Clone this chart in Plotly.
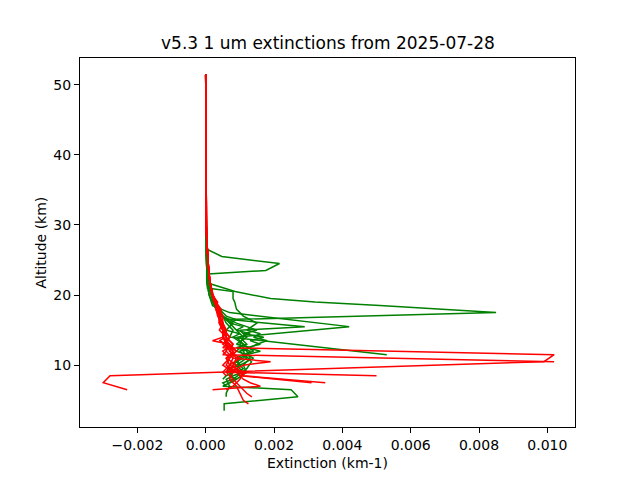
import plotly.graph_objects as go

# ---------------- data (altitude km, extinction km-1) ----------------
TOP_ALT = [51.5, 45.0, 40.0, 35.0, 30.0, 28.0, 26.0, 24.0, 22.0]
GREEN_TOP = [0.0, 0.0, 0.0, 0.0, 0.00001, 0.00001, 0.00002, 0.00003, 0.00003]
RED_TOP = [0.0, 0.0, 0.0, 0.0, 0.00002, 0.00003, 0.00005, 0.00008, 0.00012]

g1_alt = [26.5, 25.5, 24.5, 23.5, 23.0, 21.0, 20.0, 19.0, 18.0, 17.0, 16.5, 16.0, 15.5, 15.0, 14.5, 14.0, 13.0, 12.5, 12.0, 11.0, 10.5, 10.0, 9.5, 9.0, 8.5, 8.0]
g1_ext = [0.00005, 0.00047, 0.00216, 0.00176, 0.00008, 0.0001, 0.0002, 0.0003, 0.0004, 0.0006, 0.0009, 0.0007, 0.0011, 0.0009, 0.0013, 0.0010, 0.0012, 0.0009, 0.0013, 0.0011, 0.0009, 0.0010, 0.0007, 0.0008, 0.0006, 0.0005]

g2_alt = [21.5, 20.5, 19.5, 19.0, 18.5, 18.0, 17.5, 16.5, 16.0, 15.0, 14.5, 14.0, 13.0, 12.0, 11.5, 11.0, 10.0, 9.5, 9.0]
g2_ext = [0.0002, 0.00086, 0.0019, 0.0032, 0.0051, 0.0069, 0.0085, 0.0006, 0.0008, 0.0006, 0.0010, 0.0008, 0.0011, 0.0009, 0.0012, 0.0010, 0.0008, 0.0007, 0.0006]

g3_alt = [21.0, 20.5, 19.5, 19.0, 18.0, 17.0, 16.5, 16.0, 15.0, 14.5, 14.0, 13.5, 13.0, 12.5, 12.0, 11.5, 10.5, 9.5, 8.0, 7.5, 7.0]
g3_ext = [0.00005, 0.0008, 0.0008, 0.00085, 0.0009, 0.0011, 0.0013, 0.0015, 0.0012, 0.0016, 0.0014, 0.0018, 0.0015, 0.0013, 0.0011, 0.00115, 0.00134, 0.0012, 0.0008, 0.0005, 0.0006]

g4_alt = [20.0, 18.5, 17.5, 15.5, 14.0, 13.0, 12.0, 11.5, 11.0, 10.0, 9.0, 8.5, 8.0, 7.5]
g4_ext = [0.0001, 0.0002, 0.0007, 0.0042, 0.0009, 0.0011, 0.0014, 0.0011, 0.0009, 0.0010, 0.0008, 0.0007, 0.0009, 0.0007]

g5_alt = [20.0, 18.0, 17.0, 16.0, 15.0, 14.0, 11.5]
g5_ext = [0.0002, 0.0004, 0.0005, 0.0006, 0.0008, 0.0007, 0.0053]

g6_alt = [20.0, 18.0, 17.0, 16.0, 15.0, 14.0, 13.0, 12.0, 11.0, 10.0, 9.0, 8.0, 7.0, 6.5, 5.5, 4.5, 3.5]
g6_ext = [0.0002, 0.0003, 0.0005, 0.0007, 0.0009, 0.0011, 0.0010, 0.0012, 0.0013, 0.0011, 0.0012, 0.0009, 0.0005, 0.0025, 0.0027, 0.00054, 0.00054]

g7_alt = [20.0, 18.0, 17.0, 16.5, 15.5, 15.0, 14.0, 13.0, 12.5, 12.0, 11.0, 10.0, 9.0, 8.5, 8.0, 7.0, 6.0, 5.5]
g7_ext = [0.0001, 0.0003, 0.0004, 0.0007, 0.0029, 0.0010, 0.0012, 0.0009, 0.0013, 0.0010, 0.0012, 0.0009, 0.0011, 0.0008, 0.0006, 0.0007, 0.0006, 0.0006]

g8_alt = [20.0, 18.0, 17.0, 16.0, 15.5, 15.0, 14.5, 14.0, 13.5, 13.0, 12.5, 12.0, 11.5, 11.0, 10.0, 9.5, 9.0]
g8_ext = [0.00015, 0.0003, 0.0005, 0.0009, 0.0012, 0.0015, 0.0011, 0.0017, 0.0013, 0.0016, 0.0012, 0.0016, 0.0012, 0.0014, 0.0010, 0.0011, 0.0009]

r1_alt = [20.0, 19.0, 18.0, 17.0, 16.0, 15.0, 14.0, 13.5, 13.0, 12.5, 11.5, 10.5, 8.5, 7.5, 6.5]
r1_ext = [0.0002, 0.00028, 0.0003, 0.00035, 0.00045, 0.0005, 0.0006, 0.0004, 0.0006, 0.0005, 0.0102, 0.0099, -0.0028, -0.0030, -0.0023]

r2_alt = [20.0, 19.0, 18.0, 17.0, 16.0, 15.0, 14.0, 13.0, 12.0, 11.5, 10.5]
r2_ext = [0.00018, 0.00025, 0.00035, 0.0004, 0.0005, 0.00055, 0.0007, 0.0006, 0.0006, 0.0005, 0.0102]

r3_alt = [20.0, 19.0, 18.0, 17.0, 16.0, 15.0, 14.0, 13.0, 12.0, 11.0, 10.0, 9.5, 9.0, 8.5]
r3_ext = [0.0002, 0.0003, 0.0004, 0.0004, 0.0005, 0.0006, 0.0005, 0.0007, 0.0006, 0.0008, 0.0007, 0.0009, 0.0006, 0.0050]

r4_alt = [20.0, 19.0, 18.0, 17.0, 16.0, 15.0, 14.0, 13.0, 12.0, 11.0, 10.0, 9.5, 9.0, 8.5, 7.5]
r4_ext = [0.0002, 0.00035, 0.0003, 0.0004, 0.0004, 0.0005, 0.0007, 0.0005, 0.0008, 0.0006, 0.0009, 0.0007, 0.0012, 0.0010, 0.0031]

r5_alt = [20.0, 19.0, 18.0, 17.0, 16.0, 15.0, 14.0, 13.0, 12.0, 11.0, 10.0, 9.0, 8.5, 7.5]
r5_ext = [0.00022, 0.0003, 0.0004, 0.0005, 0.0005, 0.0004, 0.0006, 0.0008, 0.0007, 0.0009, 0.0008, 0.0010, 0.0011, 0.0035]

r6_alt = [20.0, 19.0, 18.0, 17.0, 16.0, 15.0, 14.0, 13.0, 12.0, 11.0, 10.5, 10.0, 9.5, 9.0, 8.0, 7.0, 6.5]
r6_ext = [0.0002, 0.0003, 0.00045, 0.0004, 0.0005, 0.0006, 0.0005, 0.0007, 0.0008, 0.0008, 0.0019, 0.0011, 0.0009, 0.0011, 0.0010, 0.0008, 0.0006]

r7_alt = [20.0, 19.0, 18.0, 17.0, 16.0, 15.0, 14.0, 13.0, 12.0, 11.0, 10.0, 9.0, 8.0, 7.5, 7.0, 6.5]
r7_ext = [0.0002, 0.0003, 0.0003, 0.00045, 0.0004, 0.0006, 0.0006, 0.0008, 0.0005, 0.0007, 0.0006, 0.0009, 0.0011, 0.0013, 0.0016, 0.0002]

r8_alt = [20.0, 19.0, 18.0, 17.0, 16.0, 15.0, 14.0, 13.0, 12.0, 11.0, 10.0, 9.0, 8.0, 7.0, 6.0, 5.0, 4.5]
r8_ext = [0.0002, 0.00025, 0.0004, 0.0004, 0.0005, 0.0005, 0.0006, 0.0006, 0.0009, 0.0007, 0.0005, 0.0008, 0.0007, 0.0009, 0.0010, 0.0011, 0.00125]

r9_alt = [20.0, 19.0, 18.0, 17.0, 16.0, 15.0, 14.0, 13.0, 12.0, 11.0, 10.0, 9.0, 8.0, 7.0, 6.0, 5.5]
r9_ext = [0.0002, 0.0003, 0.00035, 0.0004, 0.0004, 0.0005, 0.0005, 0.0006, 0.0007, 0.0010, 0.0007, 0.0006, 0.0008, 0.0010, 0.0012, 0.00135]

r10_alt = [20.0, 19.0, 18.0, 17.0, 16.0, 15.0, 14.0, 13.5, 13.0, 12.0, 11.0, 10.0, 9.0, 8.5]
r10_ext = [0.0002, 0.0003, 0.0004, 0.0004, 0.0004, 0.0005, 0.0005, 0.0002, 0.0007, 0.0009, 0.0006, 0.0007, 0.0005, 0.0006]

GREEN_PROFILES = [(g1_alt, g1_ext), (g2_alt, g2_ext), (g3_alt, g3_ext), (g4_alt, g4_ext),
                  (g5_alt, g5_ext), (g6_alt, g6_ext), (g7_alt, g7_ext), (g8_alt, g8_ext)]
RED_PROFILES = [(r1_alt, r1_ext), (r2_alt, r2_ext), (r3_alt, r3_ext), (r4_alt, r4_ext), (r5_alt, r5_ext),
                (r6_alt, r6_ext), (r7_alt, r7_ext), (r8_alt, r8_ext), (r9_alt, r9_ext), (r10_alt, r10_ext)]

X_TICKS = [-0.002, 0.0, 0.002, 0.004, 0.006, 0.008, 0.010]
X_TICK_LABELS = ["\u22120.002", "0.000", "0.002", "0.004", "0.006", "0.008", "0.010"]
Y_TICKS = [10, 20, 30, 40, 50]
TITLE = "v5.3 1 um extinctions from 2025-07-28"
X_LABEL = "Extinction (km-1)"
Y_LABEL = "Altitude (km)"

# ---------------- figure ----------------
fig = go.Figure()
FONT = "DejaVu Sans, Liberation Sans, sans-serif"


def add_profiles(profiles, top, color):
    for alt, ext in profiles:
        a = [x for x in TOP_ALT if x > alt[0]] + list(alt)
        e = [top[i] for i, x in enumerate(TOP_ALT) if x > alt[0]] + list(ext)
        fig.add_trace(go.Scatter(x=e, y=a, mode="lines",
                                 line=dict(color=color, width=1.5),
                                 showlegend=False, hoverinfo="skip"))


add_profiles(GREEN_PROFILES, GREEN_TOP, "green")
add_profiles(RED_PROFILES, RED_TOP, "red")

# page has an 8px body margin: figure occupies (8..640, 8..480)
W, H = 632, 472
fig.update_layout(
    width=W, height=H,
    margin=dict(l=72, r=65, t=50, b=53, pad=0),
    paper_bgcolor="white", plot_bgcolor="white",
    font=dict(family=FONT, size=14, color="black"),
    showlegend=False,
)
fig.update_xaxes(range=[-0.00368, 0.01081], tickvals=X_TICKS, ticktext=X_TICK_LABELS,
                 showgrid=False, zeroline=False, showline=True, linecolor="black", linewidth=1,
                 mirror=True, ticks="outside", ticklen=5, tickwidth=1, tickcolor="black",
                 tickfont=dict(size=14, family=FONT, color="black"), automargin=False)
fig.update_yaxes(range=[1.19, 53.8], tickvals=Y_TICKS,
                 showgrid=False, zeroline=False, showline=True, linecolor="black", linewidth=1,
                 mirror=True, ticks="outside", ticklen=5, tickwidth=1, tickcolor="black",
                 tickfont=dict(size=14, family=FONT, color="black"), automargin=False)

fig.add_annotation(text=TITLE, xref="paper", yref="paper", x=0.5, y=1.0, yshift=15,
                   xanchor="center", yanchor="middle", showarrow=False,
                   font=dict(size=17, family=FONT, color="black"))
fig.add_annotation(text=X_LABEL, xref="paper", yref="paper", x=0.5, y=0.0, yshift=-36,
                   xanchor="center", yanchor="middle", showarrow=False,
                   font=dict(size=14, family=FONT, color="black"))
fig.add_annotation(text=Y_LABEL, xref="paper", yref="paper", x=0.0, y=0.5, xshift=-40,
                   xanchor="center", yanchor="middle", textangle=-90, showarrow=False,
                   font=dict(size=14, family=FONT, color="black"))

fig.write_html("out.html")
